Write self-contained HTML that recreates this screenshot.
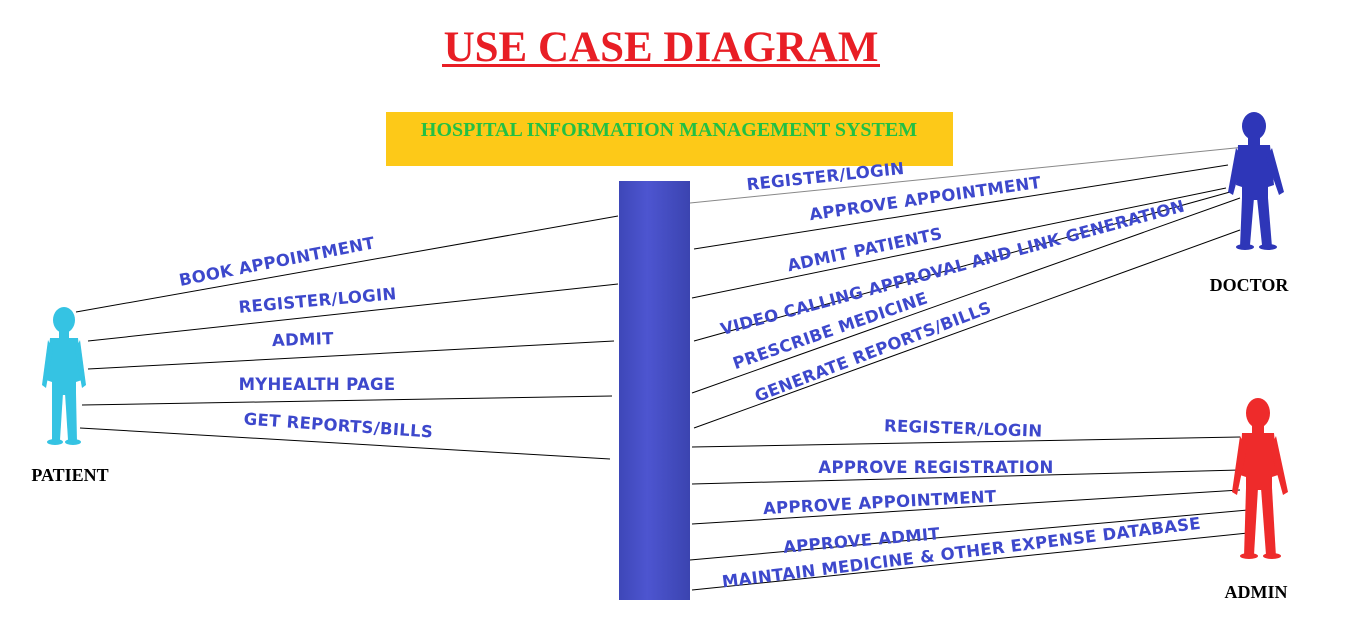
<!DOCTYPE html>
<html><head><meta charset="utf-8"><style>
html,body{margin:0;padding:0;background:#fff;width:1350px;height:629px;overflow:hidden}
.uc{font-family:"DejaVu Sans","Liberation Sans",sans-serif;font-weight:bold;font-size:16.5px;fill:#3d48cc;letter-spacing:0.3px}
.actor{font-family:"Liberation Serif",serif;font-weight:bold;font-size:18px;fill:#000}
</style></head><body>
<svg width="1350" height="629" viewBox="0 0 1350 629">
<defs>
<linearGradient id="bar" x1="0" x2="1"><stop offset="0" stop-color="#3e47b8"/><stop offset="0.4" stop-color="#4d55d0"/><stop offset="1" stop-color="#3b44b0"/></linearGradient>
</defs>
<text x="661" y="61" text-anchor="middle" font-family="Liberation Serif,serif" font-weight="bold" font-size="43" fill="#e81e25">USE CASE DIAGRAM</text>
<rect x="442" y="64" width="438" height="3" fill="#e81e25"/>
<rect x="386" y="112" width="567" height="54" fill="#fdc918"/>
<text x="669" y="136" text-anchor="middle" font-family="Liberation Serif,serif" font-weight="bold" font-size="20" fill="#22c044">HOSPITAL INFORMATION MANAGEMENT SYSTEM</text>
<rect x="619" y="181" width="71" height="419" fill="url(#bar)"/>

<g stroke="#000" stroke-width="1">
<line x1="76" y1="312" x2="618" y2="216"/>
<line x1="88" y1="341" x2="618" y2="284"/>
<line x1="88" y1="369" x2="614" y2="341"/>
<line x1="82" y1="405" x2="612" y2="396"/>
<line x1="80" y1="428" x2="610" y2="459"/>
<line x1="690" y1="203" x2="1255" y2="146" stroke="#888"/>
<line x1="694" y1="249" x2="1228" y2="165"/>
<line x1="692" y1="298" x2="1226" y2="188"/>
<line x1="694" y1="341" x2="1230" y2="192"/>
<line x1="692" y1="393" x2="1240" y2="198"/>
<line x1="694" y1="428" x2="1240" y2="230"/>
<line x1="692" y1="447" x2="1240" y2="437"/>
<line x1="692" y1="484" x2="1240" y2="470"/>
<line x1="692" y1="524" x2="1240" y2="490"/>
<line x1="690" y1="560" x2="1248" y2="510"/>
<line x1="692" y1="590" x2="1248" y2="533"/>
</g>

<text class="uc" text-anchor="middle" transform="translate(278,267) rotate(-11)">BOOK APPOINTMENT</text>
<text class="uc" text-anchor="middle" transform="translate(318,306) rotate(-5)">REGISTER/LOGIN</text>
<text class="uc" text-anchor="middle" transform="translate(303,345) rotate(-2)">ADMIT</text>
<text class="uc" text-anchor="middle" transform="translate(317,390)">MYHEALTH PAGE</text>
<text class="uc" text-anchor="middle" transform="translate(338,431) rotate(4)">GET REPORTS/BILLS</text>

<text class="uc" text-anchor="middle" transform="translate(826,182) rotate(-6)">REGISTER/LOGIN</text>
<text class="uc" text-anchor="middle" transform="translate(926,204) rotate(-8)">APPROVE APPOINTMENT</text>
<text class="uc" text-anchor="middle" transform="translate(866,255) rotate(-12)">ADMIT PATIENTS</text>
<text class="uc" text-anchor="middle" transform="translate(954,273) rotate(-15)">VIDEO CALLING APPROVAL AND LINK GENERATION</text>
<text class="uc" text-anchor="middle" transform="translate(832,336) rotate(-19)">PRESCRIBE MEDICINE</text>
<text class="uc" text-anchor="middle" transform="translate(875,357) rotate(-21)">GENERATE REPORTS/BILLS</text>

<text class="uc" text-anchor="middle" transform="translate(963,434) rotate(2)">REGISTER/LOGIN</text>
<text class="uc" text-anchor="middle" transform="translate(936,473)">APPROVE REGISTRATION</text>
<text class="uc" text-anchor="middle" transform="translate(880,508) rotate(-3)">APPROVE APPOINTMENT</text>
<text class="uc" text-anchor="middle" transform="translate(862,546) rotate(-5)">APPROVE ADMIT</text>
<text class="uc" text-anchor="middle" transform="translate(962,558) rotate(-7)">MAINTAIN MEDICINE &amp; OTHER EXPENSE DATABASE</text>

<g fill="#35c3e3">
<ellipse cx="64" cy="320" rx="11" ry="13"/>
<rect x="59" y="330" width="10" height="8"/>
<path d="M50 338 L78 338 L82 380 L76 382 L76 395 L52 395 L52 382 L46 380 Z"/>
<path d="M48 340 L42 385 L46 388 L53 350 Z"/>
<path d="M80 340 L86 385 L82 388 L75 350 Z"/>
<path d="M52 393 L63 393 L60 440 L52 442 Z"/>
<path d="M65 393 L76 393 L77 442 L68 440 Z"/>
<ellipse cx="55" cy="442" rx="8" ry="3"/><ellipse cx="73" cy="442" rx="8" ry="3"/>
</g>
<text class="actor" x="70" y="481" text-anchor="middle">PATIENT</text>

<g fill="#2e36b8">
<ellipse cx="1254" cy="126" rx="12" ry="14"/>
<rect x="1248" y="137" width="12" height="8"/>
<path d="M1238 145 L1270 145 L1274 185 L1268 187 L1268 200 L1242 200 L1242 187 L1236 185 Z"/>
<path d="M1236 148 L1228 192 L1233 195 L1243 158 Z"/>
<path d="M1272 148 L1284 192 L1279 195 L1266 158 Z"/>
<path d="M1242 198 L1254 198 L1250 245 L1240 247 Z"/>
<path d="M1257 198 L1268 198 L1272 247 L1262 245 Z"/>
<ellipse cx="1245" cy="247" rx="9" ry="3"/><ellipse cx="1268" cy="247" rx="9" ry="3"/>
</g>
<text class="actor" x="1249" y="291" text-anchor="middle">DOCTOR</text>

<g fill="#ee2b2b">
<ellipse cx="1258" cy="413" rx="12" ry="15"/>
<rect x="1252" y="425" width="12" height="8"/>
<path d="M1242 433 L1274 433 L1278 475 L1272 477 L1272 490 L1246 490 L1246 477 L1240 475 Z"/>
<path d="M1240 436 L1232 492 L1237 495 L1247 448 Z"/>
<path d="M1276 436 L1288 492 L1283 495 L1270 448 Z"/>
<path d="M1246 488 L1258 488 L1254 555 L1244 557 Z"/>
<path d="M1261 488 L1272 488 L1276 557 L1266 555 Z"/>
<ellipse cx="1249" cy="556" rx="9" ry="3"/><ellipse cx="1272" cy="556" rx="9" ry="3"/>
</g>
<text class="actor" x="1256" y="598" text-anchor="middle">ADMIN</text>
</svg>
</body></html>
